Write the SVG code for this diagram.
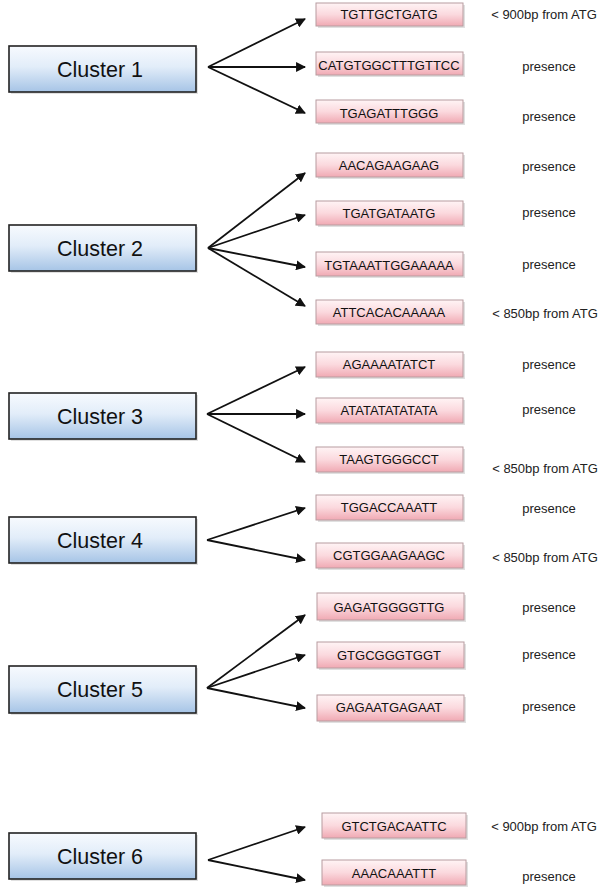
<svg xmlns="http://www.w3.org/2000/svg" width="600" height="889" viewBox="0 0 600 889">
<style>
.cl{fill:url(#gb);stroke:#222;stroke-width:1.6}
.seq{fill:url(#gp);stroke:#b89ca0;stroke-width:1}
.sh{fill:#000;opacity:0.12}
.ct{font-family:"Liberation Sans",Arial,sans-serif;font-size:21.5px;fill:#111;text-anchor:middle}
.st{font-family:"Liberation Sans",Arial,sans-serif;font-size:13px;fill:#111;text-anchor:middle}
.lt{font-family:"Liberation Sans",Arial,sans-serif;font-size:13px;fill:#222;text-anchor:middle}
.cn line{stroke:#111;stroke-width:1.8;marker-end:url(#ah)}
</style>
<defs>
<linearGradient id="gb" x1="0" y1="0" x2="0" y2="1">
<stop offset="0" stop-color="#f7fafe"/>
<stop offset="0.45" stop-color="#e2edf9"/>
<stop offset="1" stop-color="#a6c4e6"/>
</linearGradient>
<linearGradient id="gp" x1="0" y1="0" x2="0" y2="1">
<stop offset="0" stop-color="#fff4f5"/>
<stop offset="0.5" stop-color="#fbd9de"/>
<stop offset="1" stop-color="#f0a9b3"/>
</linearGradient>
<marker id="ah" viewBox="0 0 10 10" refX="9" refY="5" markerWidth="5.5" markerHeight="5.5" orient="auto" markerUnits="strokeWidth">
<path d="M0,0 L10,5 L0,10 z" fill="#111"/>
</marker>
</defs>
<rect width="600" height="889" fill="#fff"/>

<g class="cn">
<line x1="208" y1="67" x2="305" y2="19"/>
<line x1="208" y1="67" x2="305" y2="67"/>
<line x1="208" y1="67" x2="305" y2="113"/>
<line x1="208" y1="248" x2="305" y2="173"/>
<line x1="208" y1="248" x2="305" y2="215"/>
<line x1="208" y1="248" x2="305" y2="267"/>
<line x1="208" y1="248" x2="305" y2="306"/>
<line x1="207" y1="414" x2="305" y2="367"/>
<line x1="207" y1="414" x2="305" y2="414"/>
<line x1="207" y1="414" x2="305" y2="462"/>
<line x1="207" y1="540" x2="305" y2="508"/>
<line x1="207" y1="540" x2="305" y2="560"/>
<line x1="207" y1="688" x2="305" y2="615"/>
<line x1="207" y1="688" x2="305" y2="655"/>
<line x1="207" y1="688" x2="305" y2="708"/>
<line x1="208" y1="860" x2="305" y2="827"/>
<line x1="208" y1="860" x2="305" y2="880"/>
</g>

<g id="cluster1"><rect class="sh" x="11" y="48" width="187" height="46"/><rect class="cl" x="9" y="46" width="187" height="46"/><text class="ct" x="100" y="77">Cluster 1</text></g>
<g id="cluster2"><rect class="sh" x="11" y="227" width="187" height="46"/><rect class="cl" x="9" y="225" width="187" height="46"/><text class="ct" x="100" y="256">Cluster 2</text></g>
<g id="cluster3"><rect class="sh" x="11" y="395" width="187" height="46"/><rect class="cl" x="9" y="393" width="187" height="46"/><text class="ct" x="100" y="424">Cluster 3</text></g>
<g id="cluster4"><rect class="sh" x="11" y="519" width="187" height="46"/><rect class="cl" x="9" y="517" width="187" height="46"/><text class="ct" x="100" y="548">Cluster 4</text></g>
<g id="cluster5"><rect class="sh" x="11" y="668" width="187" height="47"/><rect class="cl" x="9" y="666" width="187" height="47"/><text class="ct" x="100" y="697">Cluster 5</text></g>
<g id="cluster6"><rect class="sh" x="11" y="835" width="187" height="46"/><rect class="cl" x="9" y="833" width="187" height="46"/><text class="ct" x="100" y="864">Cluster 6</text></g>

<g id="s1a"><rect class="sh" x="318" y="5" width="147" height="23"/><rect class="seq" x="316" y="3" width="147" height="23"/><text class="st" x="389" y="19">TGTTGCTGATG</text></g>
<g id="s1b"><rect class="sh" x="318" y="54" width="147" height="23"/><rect class="seq" x="316" y="52" width="147" height="23"/><text class="st" x="389" y="70">CATGTGGCTTTGTTCC</text></g>
<g id="s1c"><rect class="sh" x="318" y="102" width="147" height="23"/><rect class="seq" x="316" y="100" width="147" height="23"/><text class="st" x="389" y="118">TGAGATTTGGG</text></g>

<g id="s2a"><rect class="sh" x="318" y="155" width="147" height="24"/><rect class="seq" x="316" y="153" width="147" height="24"/><text class="st" x="389" y="170">AACAGAAGAAG</text></g>
<g id="s2b"><rect class="sh" x="318" y="203" width="147" height="24"/><rect class="seq" x="316" y="201" width="147" height="24"/><text class="st" x="389" y="218">TGATGATAATG</text></g>
<g id="s2c"><rect class="sh" x="318" y="254" width="147" height="24"/><rect class="seq" x="316" y="252" width="147" height="24"/><text class="st" x="389" y="270">TGTAAATTGGAAAAA</text></g>
<g id="s2d"><rect class="sh" x="318" y="302" width="147" height="24"/><rect class="seq" x="316" y="300" width="147" height="24"/><text class="st" x="389" y="317">ATTCACACAAAAA</text></g>

<g id="s3a"><rect class="sh" x="318" y="354" width="147" height="25"/><rect class="seq" x="316" y="352" width="147" height="25"/><text class="st" x="389" y="369">AGAAAATATCT</text></g>
<g id="s3b"><rect class="sh" x="318" y="400" width="147" height="25"/><rect class="seq" x="316" y="398" width="147" height="25"/><text class="st" x="389" y="415">ATATATATATATA</text></g>
<g id="s3c"><rect class="sh" x="318" y="449" width="147" height="25"/><rect class="seq" x="316" y="447" width="147" height="25"/><text class="st" x="389" y="464">TAAGTGGGCCT</text></g>

<g id="s4a"><rect class="sh" x="318" y="497" width="147" height="25"/><rect class="seq" x="316" y="495" width="147" height="25"/><text class="st" x="389" y="512">TGGACCAAATT</text></g>
<g id="s4b"><rect class="sh" x="318" y="545" width="147" height="25"/><rect class="seq" x="316" y="543" width="147" height="25"/><text class="st" x="389" y="560">CGTGGAAGAAGC</text></g>

<g id="s5a"><rect class="sh" x="319" y="595" width="147" height="27"/><rect class="seq" x="317" y="593" width="147" height="27"/><text class="st" x="389" y="612">GAGATGGGGTTG</text></g>
<g id="s5b"><rect class="sh" x="319" y="644" width="147" height="26"/><rect class="seq" x="317" y="642" width="147" height="26"/><text class="st" x="389" y="660">GTGCGGGTGGT</text></g>
<g id="s5c"><rect class="sh" x="319" y="697" width="147" height="26"/><rect class="seq" x="317" y="695" width="147" height="26"/><text class="st" x="389" y="712">GAGAATGAGAAT</text></g>

<g id="s6a"><rect class="sh" x="324" y="815" width="144" height="25"/><rect class="seq" x="322" y="813" width="144" height="25"/><text class="st" x="394" y="831">GTCTGACAATTC</text></g>
<g id="s6b"><rect class="sh" x="324" y="862" width="144" height="25"/><rect class="seq" x="322" y="860" width="144" height="25"/><text class="st" x="394" y="878">AAACAAATTT</text></g>

<g id="labels">
<text class="lt" x="544" y="19">&lt; 900bp from ATG</text>
<text class="lt" x="549" y="71">presence</text>
<text class="lt" x="549" y="121">presence</text>
<text class="lt" x="549" y="171">presence</text>
<text class="lt" x="549" y="217">presence</text>
<text class="lt" x="549" y="269">presence</text>
<text class="lt" x="545" y="318">&lt; 850bp from ATG</text>
<text class="lt" x="549" y="369">presence</text>
<text class="lt" x="549" y="414">presence</text>
<text class="lt" x="545" y="473">&lt; 850bp from ATG</text>
<text class="lt" x="549" y="513">presence</text>
<text class="lt" x="545" y="562">&lt; 850bp from ATG</text>
<text class="lt" x="549" y="612">presence</text>
<text class="lt" x="549" y="659">presence</text>
<text class="lt" x="549" y="711">presence</text>
<text class="lt" x="544" y="831">&lt; 900bp from ATG</text>
<text class="lt" x="549" y="881">presence</text>
</g>
</svg>
